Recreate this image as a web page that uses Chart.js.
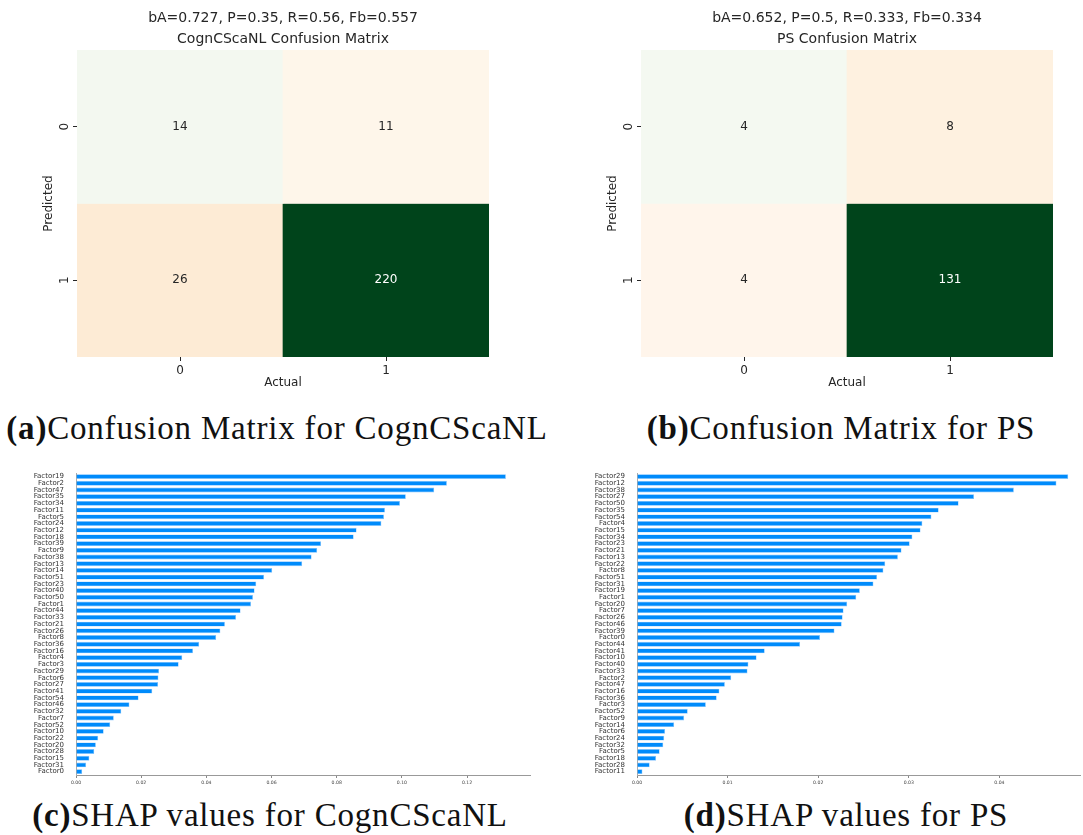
<!DOCTYPE html>
<html>
<head>
<meta charset="utf-8">
<script src="https://cdn.jsdelivr.net/npm/chart.js@4/dist/chart.umd.min.js"></script>
<style>
  body { margin: 0; background: #fff; width: 1083px; height: 835px; position: relative; overflow: hidden; }
  canvas { position: absolute; }
  .cap { position: absolute; transform: translate(-50%, -50%); white-space: nowrap;
         font-family: "Liberation Serif", serif; font-size: 33px; letter-spacing: 0.8px; color: #111; }
  .cap b { font-weight: bold; }
</style>
</head>
<body>
<canvas id="cmA" style="left:0;top:0" width="541" height="400"></canvas>
<canvas id="cmB" style="left:541px;top:0" width="542" height="400"></canvas>
<canvas id="shapA" style="left:0;top:465px" width="541" height="325"></canvas>
<canvas id="shapB" style="left:541px;top:465px" width="542" height="325"></canvas>
<div class="cap" style="left:277px;top:428px"><b>(a)</b>Confusion Matrix for CognCScaNL</div>
<div class="cap" style="left:841px;top:428px"><b>(b)</b>Confusion Matrix for PS</div>
<div class="cap" style="left:270px;top:815px"><b>(c)</b>SHAP values for CognCScaNL</div>
<div class="cap" style="left:846px;top:815px"><b>(d)</b>SHAP values for PS</div>
<script>
// confusion matrices: rows = predicted, cols = actual
const classes = ["0", "1"];
const cmA = [[14, 11], [26, 220]];
const cmB = [[4, 8], [4, 131]];
const titleA = ["bA=0.727, P=0.35, R=0.56, Fb=0.557", "CognCScaNL Confusion Matrix"];
const titleB = ["bA=0.652, P=0.5, R=0.333, Fb=0.334", "PS Confusion Matrix"];

// SHAP mean |values|
const factorsA = ["Factor19","Factor2","Factor47","Factor35","Factor34","Factor11","Factor5","Factor24","Factor12","Factor18","Factor39","Factor9","Factor38","Factor13","Factor14","Factor51","Factor23","Factor40","Factor50","Factor1","Factor44","Factor33","Factor21","Factor26","Factor8","Factor36","Factor16","Factor4","Factor3","Factor29","Factor6","Factor27","Factor41","Factor54","Factor46","Factor32","Factor7","Factor52","Factor10","Factor22","Factor20","Factor28","Factor15","Factor31","Factor0"];
const shapA = [0.1319,0.1138,0.1099,0.1012,0.0994,0.0948,0.0945,0.0937,0.0861,0.0852,0.0752,0.0740,0.0723,0.0694,0.0602,0.0577,0.0553,0.0548,0.0543,0.0537,0.0505,0.0491,0.0457,0.0443,0.0430,0.0378,0.0359,0.0326,0.0315,0.0255,0.0253,0.0252,0.0234,0.0192,0.0164,0.0139,0.0116,0.0105,0.0085,0.0068,0.0061,0.0056,0.0041,0.0031,0.0019];
const ticksA = [0, 0.02, 0.04, 0.06, 0.08, 0.10, 0.12];

const factorsB = ["Factor29","Factor12","Factor38","Factor27","Factor50","Factor35","Factor54","Factor4","Factor15","Factor34","Factor23","Factor21","Factor13","Factor22","Factor8","Factor51","Factor31","Factor19","Factor1","Factor20","Factor7","Factor26","Factor46","Factor39","Factor0","Factor44","Factor41","Factor10","Factor40","Factor33","Factor2","Factor47","Factor16","Factor36","Factor3","Factor52","Factor9","Factor14","Factor6","Factor24","Factor32","Factor5","Factor18","Factor28","Factor11"];
const shapB = [0.0476,0.0463,0.0416,0.0372,0.0355,0.0333,0.0325,0.0315,0.0313,0.0304,0.0301,0.0292,0.0288,0.0274,0.0272,0.0265,0.0261,0.0246,0.0242,0.0232,0.0228,0.0227,0.0226,0.0218,0.0202,0.0180,0.0141,0.0132,0.0123,0.0122,0.0104,0.0097,0.0091,0.0088,0.0076,0.0056,0.0052,0.0041,0.0031,0.0030,0.0029,0.0025,0.0021,0.0014,0.0006];
const ticksB = [0, 0.01, 0.02, 0.03, 0.04];

const colorsA = [["#f3f8f0", "#fef6ea"], ["#fdebd5", "#00441b"]];
const colorsB = [["#f4f9f1", "#fef1e0"], ["#fff5eb", "#00441b"]];

const ink = "#262626";
Chart.defaults.font.family = "'DejaVu Sans', sans-serif";
Chart.defaults.animation = false;

// writes counts in the cells and the rotated y tick labels
const cellText = {
  id: "cellText",
  afterDatasetsDraw(chart) {
    const c = chart.ctx;
    c.save();
    c.font = "12px 'DejaVu Sans'";
    c.textAlign = "center";
    c.textBaseline = "middle";
    chart.data.datasets.forEach((ds, r) => {
      chart.getDatasetMeta(r).data.forEach((el, i) => {
        c.fillStyle = ds.cells[i] > 100 ? "#fff" : ink;
        c.fillText(ds.cells[i], el.x, (el.y + el.base) / 2);
      });
    });
    const ys = chart.scales.y;
    c.fillStyle = ink;
    classes.forEach((lab, i) => {
      c.save();
      c.translate(chart.chartArea.left - 12, ys.getPixelForValue(i + 0.5));
      c.rotate(-Math.PI / 2);
      c.fillText(lab, 0, 0);
      c.restore();
    });
    c.restore();
  }
};

function heatmap(id, cm, colors, title, padL, padR) {
  new Chart(document.getElementById(id), {
    type: "bar",
    data: {
      labels: classes,
      datasets: cm.map((row, r) => ({
        data: classes.map(() => [r, r + 1]),
        cells: row,
        backgroundColor: colors[r],
        borderWidth: 0,
        barPercentage: 1,
        categoryPercentage: 1,
        grouped: false
      }))
    },
    options: {
      responsive: false,
      layout: { padding: { left: padL, right: padR, top: 0, bottom: 7 } },
      plugins: {
        legend: { display: false },
        tooltip: { enabled: false },
        title: {
          display: true, text: title, color: ink, fullSize: false,
          font: { size: 14, weight: "normal", lineHeight: 1.5 },
          padding: { top: 8, bottom: 0 }
        }
      },
      scales: {
        x: {
          grid: { drawOnChartArea: false, offset: false, tickLength: 4, color: ink },
          border: { display: false },
          ticks: { color: ink, font: { size: 12 }, padding: 3 },
          title: { display: true, text: "Actual", color: ink, font: { size: 12 }, padding: { top: 2, bottom: 3 } },
          afterFit: s => { s.height = 36; }
        },
        y: {
          min: 0, max: 2, reverse: true,
          afterBuildTicks: s => { s.ticks = [{ value: 0.5 }, { value: 1.5 }]; },
          grid: { drawOnChartArea: false, tickLength: 4, color: ink },
          border: { display: false },
          ticks: { color: "rgba(0,0,0,0)", font: { size: 12 } },
          title: { display: true, text: "Predicted", color: ink, font: { size: 12 }, padding: 4 },
          afterFit: s => { s.width = 39; }
        }
      }
    },
    plugins: [cellText]
  });
}

function shapBars(id, labels, values, ticks, xmax, padL, padR) {
  new Chart(document.getElementById(id), {
    type: "bar",
    data: {
      labels: labels,
      datasets: [{
        data: values,
        backgroundColor: "#008bfb",
        borderColor: "rgba(120,190,253,0.9)",
        borderWidth: 0.6,
        barPercentage: 0.72,
        categoryPercentage: 1
      }]
    },
    options: {
      responsive: false,
      indexAxis: "y",
      layout: { padding: { left: padL, right: padR, top: 8, bottom: 3 } },
      plugins: { legend: { display: false }, tooltip: { enabled: false } },
      scales: {
        x: {
          min: 0, max: xmax,
          afterBuildTicks: s => { s.ticks = ticks.map(v => ({ value: v })); },
          grid: { drawOnChartArea: false, tickLength: 3, color: "#888" },
          border: { color: "#999", width: 1 },
          ticks: { color: "#444", font: { size: 4.6 }, padding: 2, callback: v => v.toFixed(2) },
          afterFit: s => { s.height = 12; }
        },
        y: {
          grid: { display: false },
          border: { color: "#aaa", width: 1 },
          ticks: { color: "#333", font: { size: 7 }, padding: 4, autoSkip: false },
          afterFit: s => { s.width = 76; }
        }
      }
    }
  });
}

heatmap("cmA", cmA, colorsA, titleA, 38, 52);
heatmap("cmB", cmB, colorsB, titleB, 61, 30);
shapBars("shapA", factorsA, shapA, ticksA, 0.1393, 0, 11);
shapBars("shapB", factorsB, shapB, ticksB, 0.0489, 20, 3);
</script>
</body>
</html>
